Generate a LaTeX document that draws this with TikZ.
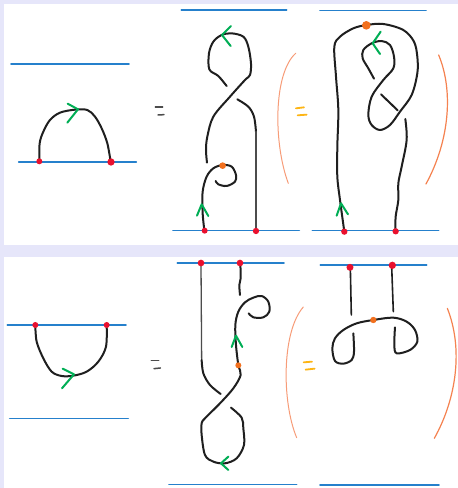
\documentclass[tikz,border=0pt]{standalone}
\definecolor{panelbg}{HTML}{E6E6FA}
\definecolor{bluel}{HTML}{2580CC}
\definecolor{redd}{HTML}{E9102E}
\definecolor{greena}{HTML}{00AE55}
\definecolor{orangep}{HTML}{F2701E}
\definecolor{yelloweq}{HTML}{FDB515}
\definecolor{arcl}{HTML}{F79C78}
\definecolor{arcm}{HTML}{F58250}
\tikzset{
 base/.style={line cap=round,line join=round},
 strand/.style={base,draw=black!88,line width=2pt},
 thin strand/.style={base,draw=black!70,line width=1.3pt},
 boundary/.style={base,draw=bluel,line width=1.6pt},
 garrow/.style={base,draw=greena,line width=2pt},
 paren/.style={base,draw=arcl,line width=1pt},
 parenm/.style={base,draw=arcm,line width=1.2pt},
 eqk/.style={base,draw=black!70,line width=1.5pt},
 eqy/.style={base,draw=yelloweq,line width=1.8pt},
 zoomed/.style={x=.3333pt,y=-.3333pt}
}
\newcommand{\spl}[2][strand]{\draw[#1] plot[smooth,tension=.55] coordinates {#2};}
\begin{document}
\begin{tikzpicture}[x=1pt,y=-1pt]
\useasboundingbox (0,0) rectangle (458,488);
\fill[panelbg] (0,0) rectangle (458,488);
\fill[white] (4,4) rectangle (458,245);
\fill[white] (4,257) rectangle (458,488);

% top left
\begin{scope}[zoomed]
\draw[boundary] (33,192) -- (387,192);
\draw[boundary] (56,486) -- (409,486);
\spl{(118,484)(119,430)(130,395)(150,360)(180,338)(225,329)(262,330)(285,350)(305,385)(322,430)(332,485)}
\draw[garrow] (203,311) -- (234,328) -- (202,368);
\fill[redd] (118,484) circle (9);
\fill[redd] (333,486) circle (11);
\end{scope}

% top middle
\begin{scope}[xshift=150pt,zoomed]
\draw[boundary] (94,30) -- (410,30);
\draw[boundary] (69,691) -- (448,691);
\spl{(230,258)(205,228)(178,208)(177,160)(190,125)(215,105)(245,100)(280,110)(295,140)(303,190)(300,225)(285,240)(240,290)(190,350)(172,410)(168,450)(171,488)}
\spl{(262,298)(295,320)(312,350)(318,395)}
\draw[thin strand] (318,395) -- (318,690);
\spl{(163,690)(158,640)(158,575)(170,530)(190,505)(218,495)(245,500)(258,525)(255,545)(230,558)(205,553)(197,543)}
\draw[garrow] (243,78) -- (216,105) -- (242,138);
\draw[garrow] (141,647) -- (155,613) -- (175,648);
\fill[orangep] (218,497) circle (10);
\fill[redd] (164,692) circle (9);
\fill[redd] (318,693) circle (9.5);
\draw[paren] (437,160) .. controls (370,220) and (370,430) .. (415,550);
\draw[eqy] (438,325) -- (462,322);
\draw[eqy] (443,346) -- (470,344);
\draw[eqk] (16,321) -- (38,321);
\draw[eqk] (24,345) -- (42,344);
\end{scope}

% top right
\begin{scope}[xshift=300pt,zoomed]
\draw[boundary] (60,31) -- (378,31);
\draw[boundary] (37,692) -- (416,692);
\spl{(133,695)(120,600)(112,530)(112,440)(115,330)(108,230)(103,140)(120,110)(160,85)(200,75)(250,72)(310,90)(342,125)(352,170)(352,220)(335,285)(300,335)(270,375)(240,390)(215,375)(205,345)(215,290)(250,240)(280,205)(282,170)(270,135)(245,123)(215,130)(190,150)(188,175)(205,205)(222,236)}
\draw[strand] (243,283) -- (293,331);
\spl{(316,357)(320,420)(305,500)(295,550)(295,600)(287,650)(286,692)}
\draw[garrow] (242,95) -- (218,130) -- (240,162);
\draw[garrow] (110,647) -- (123,610) -- (144,643);
\fill[orangep] (199,76) circle (13);
\fill[redd] (133,695) circle (9.5);
\fill[redd] (287,694) circle (9.5);
\draw[parenm] (416,165) .. controls (460,270) and (450,420) .. (378,552);
\end{scope}

% bottom left
\begin{scope}[yshift=-245pt,zoomed]
\draw[boundary] (22,240) -- (378,240);
\draw[boundary] (29,521) -- (385,521);
\spl{(106,240)(110,290)(130,340)(155,380)(185,393)(220,392)(260,380)(295,350)(318,305)(320,240)}
\draw[garrow] (188,371) -- (222,388) -- (186,430);
\fill[redd] (106,240) circle (9);
\fill[redd] (320,240) circle (9);
\end{scope}

% bottom middle
\begin{scope}[xshift=150pt,yshift=-245pt,zoomed]
\draw[boundary] (82,54) -- (402,54);
\draw[boundary] (57,719) -- (440,719);
\draw[thin strand] (153,54) -- (155,345);
\spl{(155,345)(160,385)(180,420)(212,447)}
\spl{(271,54)(272,100)(268,120)(270,150)}
\spl{(296,205)(310,217)(340,217)(358,200)(355,170)(335,153)(310,158)(285,172)(265,200)(256,240)(258,300)(265,360)(272,390)(250,430)(210,475)(165,520)(155,535)(155,570)(165,630)(190,650)(225,655)(260,640)(282,600)(280,550)(275,518)(243,488)}
\draw[garrow] (245,306) -- (258,272) -- (277,306);
\draw[garrow] (235,635) -- (213,655) -- (235,675);
\fill[orangep] (265,361) circle (9);
\fill[redd] (153,54) circle (10);
\fill[redd] (270,54) circle (10);
\draw[paren] (460,186) .. controls (395,260) and (395,470) .. (440,578);
\draw[eqk] (4,346) -- (26,346);
\draw[eqk] (12,371) -- (31,369);
\draw[eqy] (461,352) -- (486,350);
\draw[eqy] (467,374) -- (494,371);
\end{scope}

% bottom right
\begin{scope}[xshift=300pt,yshift=-245pt,zoomed]
\draw[boundary] (61,60) -- (380,60);
\draw[boundary] (60,720) -- (417,720);
\draw[strand,line width=1.6pt] (151,67) -- (154,210);
\draw[strand,line width=1.6pt] (275,62) -- (280,200);
\spl{(160,265)(162,320)(155,345)(130,356)(105,348)(97,310)(105,280)(130,255)(170,235)(220,225)(280,218)(320,230)(345,255)(352,290)(330,315)(290,325)(283,300)(285,247)}
\fill[orangep] (220,225) circle (9.5);
\fill[redd] (150,67) circle (10.5);
\fill[redd] (277,61) circle (11);
\draw[parenm] (442,190) .. controls (490,310) and (470,460) .. (403,580);
\end{scope}
\end{tikzpicture}
\end{document}
